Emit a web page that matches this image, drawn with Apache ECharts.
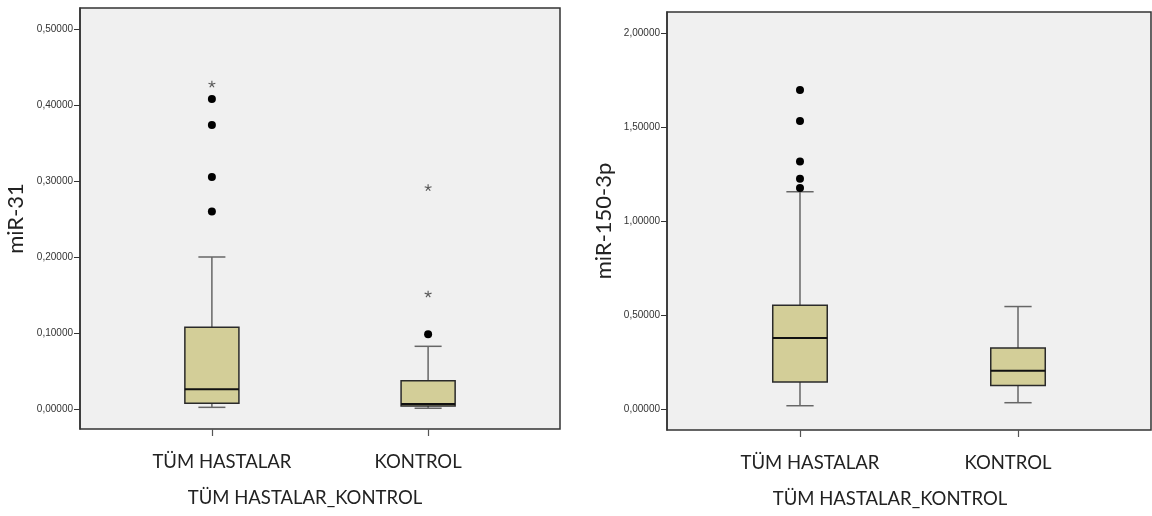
<!DOCTYPE html>
<html>
<head>
<meta charset="utf-8">
<script src="https://cdn.jsdelivr.net/npm/echarts@6/dist/echarts.min.js"></script>
<style>
html,body{margin:0;padding:0;background:#fff;}
#chart{width:1152px;height:516px;}
</style>
</head>
<body>
<div id="chart"></div>
<script>
// ---- data ----
const categories = ['TÜM HASTALAR', 'KONTROL'];
const xTitle = 'TÜM HASTALAR_KONTROL';

// [lower whisker, Q1, median, Q3, upper whisker]
const mir31Box = [
  [0.0022, 0.0075, 0.0260, 0.1075, 0.2000],
  [0.0010, 0.0040, 0.0066, 0.0373, 0.0825]
];
// [category index, value]
const mir31Outliers = [[0, 0.2597], [0, 0.3053], [0, 0.3737], [0, 0.4079], [1, 0.0983]];
const mir31Extremes = [[0, 0.4272], [1, 0.1510], [1, 0.2910]];
const mir31Ticks = [0, 0.1, 0.2, 0.3, 0.4, 0.5];

const mir150Box = [
  [0.021, 0.147, 0.381, 0.555, 1.158],
  [0.037, 0.128, 0.207, 0.328, 0.548]
];
const mir150Outliers = [[0, 1.178], [0, 1.227], [0, 1.319], [0, 1.534], [0, 1.699]];
const mir150Extremes = [];
const mir150Ticks = [0, 0.5, 1.0, 1.5, 2.0];

// ---- styling ----
const BOX_FILL = '#d3ce98';
const BOX_HALF = 0.125;   // half box width in x-units (categories at 1 and 2)
const CAP_HALF = 0.0625;
const fmt = v => v.toFixed(5).replace('.', ',');

function boxData(arr) { return arr.map((b, i) => [i + 1].concat(b)); }
function ptData(arr) { return arr.map(p => [p[0] + 1, p[1]]); }

function renderBox(params, api) {
  const x = api.value(0), lo = api.value(1), q1 = api.value(2), med = api.value(3), q3 = api.value(4), hi = api.value(5);
  const c = (a, b) => api.coord([a, b]);
  const wStyle = { stroke: '#666', lineWidth: 1.5 };
  const tl = c(x - BOX_HALF, q3), br = c(x + BOX_HALF, q1);
  const m1 = c(x - BOX_HALF, med), m2 = c(x + BOX_HALF, med);
  const line = (p1, p2, st) => ({ type: 'line', shape: { x1: p1[0], y1: p1[1], x2: p2[0], y2: p2[1] }, style: st });
  return {
    type: 'group',
    children: [
      line(c(x, q3), c(x, hi), wStyle),
      line(c(x - CAP_HALF, hi), c(x + CAP_HALF, hi), wStyle),
      line(c(x, q1), c(x, lo), wStyle),
      line(c(x - CAP_HALF, lo), c(x + CAP_HALF, lo), wStyle),
      { type: 'rect', shape: { x: tl[0], y: tl[1], width: br[0] - tl[0], height: br[1] - tl[1] },
        style: { fill: BOX_FILL, stroke: '#2a2a2a', lineWidth: 1.5 } },
      line(m1, m2, { stroke: '#111', lineWidth: 2 })
    ]
  };
}

function renderStar(params, api) {
  const p = api.coord([api.value(0), api.value(1)]);
  const r = 3.6, kids = [];
  for (let k = 0; k < 5; k++) {
    const a = (-90 + k * 72) * Math.PI / 180;
    kids.push({ type: 'line', shape: { x1: p[0], y1: p[1], x2: p[0] + r * Math.cos(a), y2: p[1] + r * Math.sin(a) },
      style: { stroke: '#555', lineWidth: 1.1 } });
  }
  return { type: 'group', children: kids };
}

function panel(idx, yName, yMin, yMax, ticks, nameGapY, titleShift) {
  return {
    x: {
      type: 'value', gridIndex: idx, min: 0.39, max: 2.61,
      splitLine: { show: false },
      axisLine: { show: false, onZero: false },
      axisTick: { show: true, customValues: [1, 2], length: 7, lineStyle: { color: '#555', width: 1.2 } },
      axisLabel: {
        customValues: [1, 2], margin: 24,
        formatter: v => (v < 1.5 ? '{a|' + categories[0] + '}' : '{b|' + categories[1] + '}'),
        rich: {
          a: { fontFamily: 'Lato', fontSize: 18.5, color: '#222', padding: [0, 0, 0, 20] },
          b: { fontFamily: 'Lato', fontSize: 18.5, color: '#222', padding: [0, 20, 0, 0] }
        }
      },
      name: xTitle, nameLocation: 'middle', nameGap: 60,
      nameTextStyle: { fontFamily: 'Lato', fontSize: 18.5, color: '#222', padding: [0, titleShift, 0, 0] }
    },
    y: {
      type: 'value', gridIndex: idx, min: yMin, max: yMax,
      splitLine: { show: false },
      axisLine: { show: true, lineStyle: { color: '#333', width: 1.5 } },
      axisTick: { show: true, customValues: ticks, length: 6, lineStyle: { color: '#333' } },
      axisLabel: { customValues: ticks, formatter: fmt, fontFamily: 'Liberation Sans', fontSize: 10, color: '#333', margin: 7 },
      name: yName, nameLocation: 'middle', nameGap: nameGapY,
      nameTextStyle: { fontFamily: 'Lato', fontSize: 22, color: '#222' }
    }
  };
}

const p1 = panel(0, 'miR-31', -0.0263, 0.5276, mir31Ticks, 53, 30);
const p2 = panel(1, 'miR-150-3p', -0.108, 2.113, mir150Ticks, 52, 38);

function seriesFor(idx, box, outl, extr) {
  return [
    { type: 'custom', xAxisIndex: idx, yAxisIndex: idx, renderItem: renderBox, data: boxData(box), encode: { x: 0, y: [1, 2, 3, 4, 5] }, z: 2 },
    { type: 'scatter', xAxisIndex: idx, yAxisIndex: idx, data: ptData(outl), symbol: 'circle', symbolSize: 8,
      itemStyle: { color: '#000', opacity: 1 }, z: 3 },
    { type: 'custom', xAxisIndex: idx, yAxisIndex: idx, renderItem: renderStar, data: ptData(extr), encode: { x: 0, y: 1 }, z: 3 }
  ];
}

const chart = echarts.init(document.getElementById('chart'), null, { renderer: 'canvas' });
chart.setOption({
  animation: false,
  backgroundColor: '#fff',
  grid: [
    { left: 80, top: 8, width: 480, height: 421, show: true, backgroundColor: '#f0f0f0', borderColor: '#333', borderWidth: 1.5 },
    { left: 667, top: 12, width: 484, height: 418, show: true, backgroundColor: '#f0f0f0', borderColor: '#333', borderWidth: 1.5 }
  ],
  xAxis: [p1.x, p2.x],
  yAxis: [p1.y, p2.y],
  series: seriesFor(0, mir31Box, mir31Outliers, mir31Extremes).concat(seriesFor(1, mir150Box, mir150Outliers, mir150Extremes))
});
</script>
</body>
</html>
